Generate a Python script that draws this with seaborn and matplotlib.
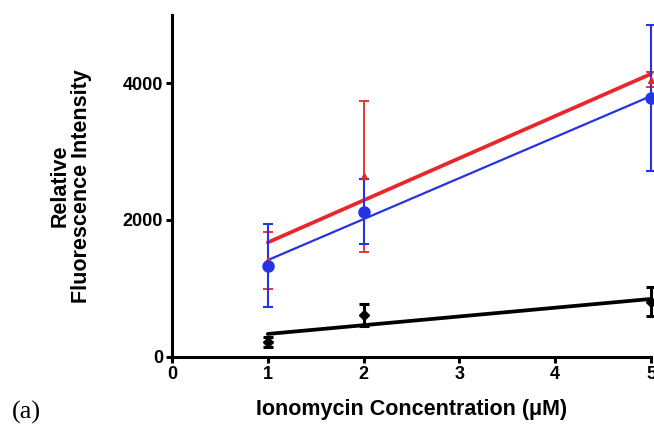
import numpy as np
import pandas as pd
import matplotlib
matplotlib.use("Agg")
import matplotlib.pyplot as plt
import seaborn as sns

# Data
conc = [1, 2, 5]
red_mean = [1408, 2636, 4050]
red_err = [416, 1106, 110]
blue_mean = [1330, 2120, 3786]
blue_err = [610, 480, 1072]
black_mean = [217, 609, 805]
black_err = [75, 162, 210]
x_ticks = [0, 1, 2, 3, 4, 5]
y_ticks = [0, 2000, 4000]

RED = "#e8262b"
BLUE = "#2433e6"
BLACK = "#000000"

sns.set_theme(style="ticks")
plt.rcParams["font.family"] = ["Liberation Sans", "DejaVu Sans"]
plt.rcParams["text.color"] = "black"
plt.rcParams["axes.labelcolor"] = "black"
plt.rcParams["xtick.color"] = "black"
plt.rcParams["ytick.color"] = "black"

fig = plt.figure(figsize=(6.54, 4.37), dpi=100)
ax = fig.add_axes([172 / 654, (437 - 356.5) / 437, (651 - 172) / 654, (356.5 - 15) / 437])

series = [
    (black_mean, black_err, BLACK, "D", 5, 2.7, 2.2),
    (red_mean, red_err, RED, "^", 5, 2.7, 1.3),
    (blue_mean, blue_err, BLUE, "o", 8, 1.6, 1.5),
]

for mean, err, col, mk, ms, lw_fit, lw_err in series:
    df = pd.DataFrame({"x": conc, "y": mean})
    sns.regplot(data=df, x="x", y="y", ax=ax, scatter=False, ci=None,
                truncate=True, color=col, line_kws={"linewidth": lw_fit, "clip_on": False})
    eb = ax.errorbar(conc, mean, yerr=err, fmt=mk, color=col, markersize=ms,
                     elinewidth=lw_err, capsize=3.3, capthick=lw_err, clip_on=False,
                     zorder=3)
    for a in eb.lines[1] + tuple(eb.lines[2]):
        a.set_clip_on(False)

ax.set_xlim(0, 5)
ax.set_ylim(0, 5000)
ax.set_xticks(x_ticks)
ax.set_yticks(y_ticks)
ax.set_xticklabels([str(t) for t in x_ticks], fontweight="bold", fontsize=13)
ax.set_yticklabels([str(t) for t in y_ticks], fontweight="bold", fontsize=13)
ax.tick_params(axis="both", width=2.2, length=4.5, pad=2, colors="black")
for s in ["top", "right"]:
    ax.spines[s].set_visible(False)
for s in ["left", "bottom"]:
    ax.spines[s].set_linewidth(2.2)
    ax.spines[s].set_color("black")

ax.set_xlabel("Ionomycin Concentration (\u03bcM)", fontweight="bold", fontsize=15.5,
              labelpad=12, color="black")
ax.set_ylabel("Relative\nFluorescence Intensity", fontweight="bold", fontsize=15.5,
              labelpad=22, linespacing=1.0, color="black")

fig.text(12 / 654, 1 - 412 / 437, "(a)", family=["Liberation Serif", "DejaVu Serif"],
         fontsize=19, va="center", ha="left", color="black")

fig.savefig("out.png", dpi=100)
